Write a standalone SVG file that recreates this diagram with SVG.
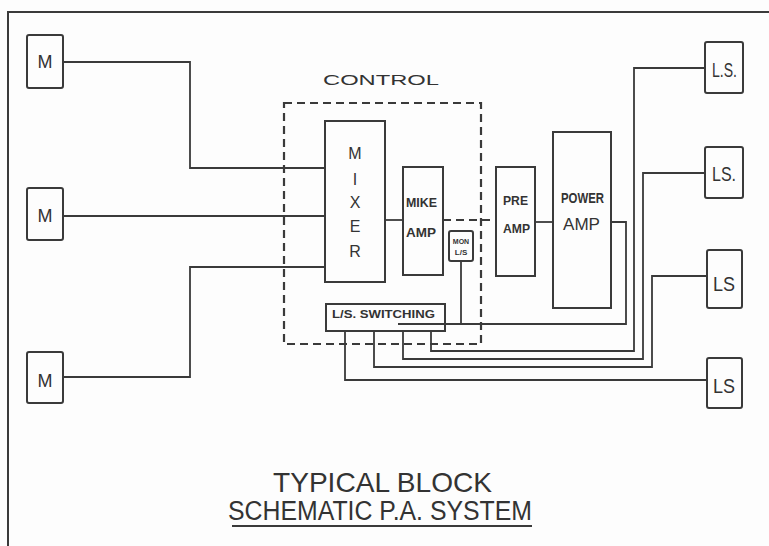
<svg xmlns="http://www.w3.org/2000/svg" width="769" height="546" viewBox="0 0 769 546">
<style>
  .box{fill:none;stroke:#3a3a3a;stroke-width:2}
  .w{fill:none;stroke:#3a3a3a;stroke-width:1.8;stroke-linejoin:miter}
  .dash{fill:none;stroke:#3a3a3a;stroke-width:2.2;stroke-dasharray:8 5}
  text{font-family:"Liberation Sans",Arial,sans-serif;fill:#333}
  .lbl{font-size:18px;text-anchor:middle}
  .mx{font-size:16px;text-anchor:middle}
  .blk{font-weight:bold}
</style>
<rect width="769" height="546" fill="#fdfdfd"/>
<g id="frame"><path class="box" d="M8 546 V12 H769"/></g>

<g id="control">
  <rect class="dash" x="284" y="103" width="197" height="241"/>
  <text x="381" y="85" font-size="14" text-anchor="middle" textLength="116" lengthAdjust="spacingAndGlyphs">CONTROL</text>
</g>

<g id="connectors">
  <path class="w" d="M63 62 H190 V168 H325"/>
  <path class="w" d="M63 216 H325"/>
  <path class="w" d="M63 377 H190 V267 H325"/>
  <path class="w" d="M385 220 H403"/>
  <path class="dash" d="M443 220 H496" stroke-width="1.8"/>
  <path class="w" d="M535 222 H553"/>
  <path class="w" d="M611 222 H626 V324 H398"/>
  <path class="w" d="M461 261 V324"/>
  <path class="w" d="M431 331 V351 H634 V68 H705"/>
  <path class="w" d="M403 331 V359 H643 V173 H705"/>
  <path class="w" d="M374 331 V367 H652 V276 H707"/>
  <path class="w" d="M345 331 V380 H707"/>
</g>

<g id="m1"><rect class="box" x="27" y="35" width="36" height="53" rx="2"/><text class="lbl" x="45" y="68">M</text></g>
<g id="m2"><rect class="box" x="27" y="188" width="36" height="52" rx="2"/><text class="lbl" x="45" y="222">M</text></g>
<g id="m3"><rect class="box" x="27" y="352" width="36" height="51" rx="2"/><text class="lbl" x="45" y="387">M</text></g>

<g id="mixer">
  <rect class="box" x="325" y="121" width="60" height="161"/>
  <text class="mx" x="355" y="159">M</text>
  <text class="mx" x="355" y="185">I</text>
  <text class="mx" x="355" y="208">X</text>
  <text class="mx" x="355" y="232">E</text>
  <text class="mx" x="355" y="257">R</text>
</g>

<g id="mikeamp">
  <rect class="box" x="403" y="167" width="40" height="108"/>
  <text x="406" y="207" class="blk" font-size="13" textLength="31" lengthAdjust="spacingAndGlyphs">MIKE</text>
  <text x="406" y="237" class="blk" font-size="13" textLength="30" lengthAdjust="spacingAndGlyphs">AMP</text>
</g>

<g id="monls">
  <rect class="box" x="449" y="231" width="24" height="30" rx="2"/>
  <text x="461" y="244" font-size="7" font-weight="bold" text-anchor="middle">MON</text>
  <text x="461" y="255" font-size="8" font-weight="bold" text-anchor="middle">L/S</text>
</g>

<g id="switching">
  <rect class="box" x="326" y="304" width="119" height="27"/>
  <text x="332" y="318" class="blk" font-size="11" textLength="103" lengthAdjust="spacingAndGlyphs">L/S. SWITCHING</text>
</g>

<g id="preamp">
  <rect class="box" x="496" y="167" width="39" height="109"/>
  <text x="503" y="205" class="blk" font-size="13" textLength="25" lengthAdjust="spacingAndGlyphs">PRE</text>
  <text x="503" y="233" class="blk" font-size="13" textLength="27" lengthAdjust="spacingAndGlyphs">AMP</text>
</g>

<g id="poweramp">
  <rect class="box" x="553" y="132" width="58" height="176"/>
  <text x="561" y="203" class="blk" font-size="14" textLength="43" lengthAdjust="spacingAndGlyphs">POWER</text>
  <text x="563" y="230" textLength="37" lengthAdjust="spacingAndGlyphs" font-size="16">AMP</text>
</g>

<g id="ls1"><rect class="box" x="705" y="42" width="38" height="51" rx="2"/><text x="712" y="77" font-size="21" textLength="25" lengthAdjust="spacingAndGlyphs">L.S.</text></g>
<g id="ls2"><rect class="box" x="705" y="147" width="38" height="51" rx="2"/><text x="712" y="181" font-size="21" textLength="24" lengthAdjust="spacingAndGlyphs">LS.</text></g>
<g id="ls3"><rect class="box" x="707" y="250" width="35" height="58" rx="2"/><text x="713" y="291" font-size="21" textLength="22" lengthAdjust="spacingAndGlyphs">LS</text></g>
<g id="ls4"><rect class="box" x="707" y="358" width="35" height="50" rx="2"/><text x="713" y="393" font-size="21" textLength="22" lengthAdjust="spacingAndGlyphs">LS</text></g>

<g id="title">
  <text x="273" y="492" font-size="28" textLength="219" lengthAdjust="spacingAndGlyphs" fill="#3a3a3a">TYPICAL  BLOCK</text>
  <text x="228" y="520" font-size="27" textLength="304" lengthAdjust="spacingAndGlyphs" fill="#3a3a3a">SCHEMATIC  P.A. SYSTEM</text>
  <path class="w" d="M232 526 H532"/>
</g>
</svg>
